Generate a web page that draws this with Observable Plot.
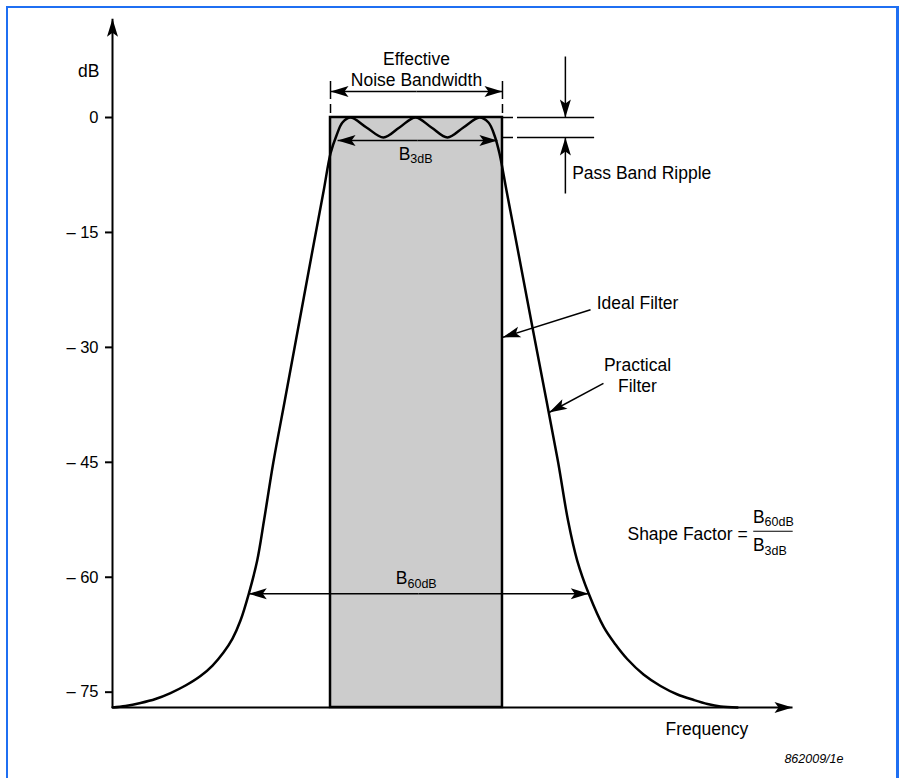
<!DOCTYPE html>
<html><head><meta charset="utf-8">
<script src="https://cdn.jsdelivr.net/npm/d3@7"></script>
<script src="https://cdn.jsdelivr.net/npm/@observablehq/plot@0.6"></script>
<style>
html,body{margin:0;padding:0;background:#fff;}
#wrap{position:relative;width:900px;height:778px;overflow:hidden;}
#wrap svg{position:absolute;left:0;top:0;}
#frame{position:absolute;left:6px;top:6px;width:888px;height:800px;border-style:solid;border-color:#1f6ff2;border-width:2px 3px 0 2px;pointer-events:none;z-index:2;}
</style></head><body><div id="wrap"><div id="frame"></div></div>
<script>
// ---- data (frequency in arbitrary units, level in dB) ----
const practicalFreq = [0,1.91,4.12,6.32,8.53,10.74,12.94,14.71,16.32,17.65,18.82,20.04,21.28,22.28,23.65,25.34,27.32,29.41,31.06,32.06,32.94,33.82,35.0,37.35,39.85,42.2,44.56,46.9,49.26,51.6,53.97,55.29,56.18,56.91,57.94,59.62,61.76,63.82,65.54,66.99,68.34,70.04,72.25,73.97,75.69,78.09,80.59,83.09,85.49,87.5,89.41,91.91];
const practicalDb   = [-77,-76.8,-76.41,-75.89,-75.11,-74.13,-72.89,-71.52,-69.82,-68.0,-65.65,-62.16,-57.82,-52.6,-45.03,-36.93,-27.41,-17.36,-9.53,-4.7,-2.35,-0.65,0,-1.3,-2.6,-1.3,0,-1.3,-2.6,-1.3,0,-0.65,-2.35,-4.7,-9.53,-17.36,-27.41,-36.94,-45.03,-52.6,-57.82,-62.16,-66.52,-68.78,-70.67,-72.69,-74.19,-75.3,-76.02,-76.54,-76.87,-77];
const idealFreq = [32.06, 57.35];
const idealDb = [-77, 0];
const dbTicks = [0, -15, -30, -45, -60, -75];
const freqDomain = [0, 100];
const dbDomain = [-77, 0];
const dbAxisTop = 12.9;
const rippleDb = [0, -2.6];
const b3Db = -3;
const b60Db = -62.16;
const enbDb = 3.4;

// annotation arrows: tail (x1,y1) -> tip (x2,y2)
const arrows = [
  {x1:0, y1:-77, x2:0, y2:dbAxisTop, w:2},
  {x1:0, y1:-77, x2:100, y2:-77, w:2},
  {x1:44.7, y1:enbDb, x2:idealFreq[0], y2:enbDb, w:1.5},
  {x1:44.7, y1:enbDb, x2:idealFreq[1], y2:enbDb, w:1.5},
  {x1:44.85, y1:b3Db, x2:33.1, y2:b3Db, w:1.5},
  {x1:44.85, y1:b3Db, x2:56.6, y2:b3Db, w:1.5},
  {x1:45.0, y1:b60Db, x2:20.04, y2:b60Db, w:1.5},
  {x1:45.0, y1:b60Db, x2:70.04, y2:b60Db, w:1.5},
  {x1:66.6, y1:7.96, x2:66.6, y2:rippleDb[0], w:1.5},
  {x1:66.6, y1:-9.92, x2:66.6, y2:rippleDb[1], w:1.5},
  {x1:70.3, y1:-25.1, x2:idealFreq[1], y2:-28.7, w:1.5},
  {x1:72.2, y1:-34.7, x2:64.2, y2:-38.5, w:1.5}
];

const labels = [
  {f:-3.5, db:6.13, t:"dB", a:"middle"},
  {f:44.7, db:6.4, t:"Effective\nNoise Bandwidth", a:"middle"},
  {f:67.6, db:-7.18, t:"Pass Band Ripple", a:"start"},
  {f:71.2, db:-24.1, t:"Ideal Filter", a:"start"},
  {f:77.2, db:-33.6, t:"Practical\nFilter", a:"middle"},
  {f:93.4, db:-54.2, t:"Shape Factor =", a:"end"},
  {f:87.4, db:-79.7, t:"Frequency", a:"middle"}
];
const subLabels = [
  {f:43.8, db:-4.76, main:"B", sub:"3dB"},
  {f:43.38, db:-60.2, main:"B", sub:"60dB"},
  {f:95.9, db:-52.2, main:"B", sub:"60dB"},
  {f:95.9, db:-55.9, main:"B", sub:"3dB"}
];
const fractionBar = [{f1:94.3, f2:100.1, db:-54.0}];
const caption = [{f:107.5, db:-83.7, t:"862009/1e"}];

// ---- build ----
const curve = practicalFreq.map((f, i) => ({f, db: practicalDb[i]}));
const ideal = [{f1: idealFreq[0], f2: idealFreq[1], d1: idealDb[0], d2: idealDb[1]}];
const xRange = [112, 792], yRange = [707, 117];
const fx = d3.scaleLinear(freqDomain, xRange);
const fy = d3.scaleLinear(dbDomain, yRange);
const heading = a => Math.atan2(fx(a.x2) - fx(a.x1), -(fy(a.y2) - fy(a.y1))) * 180 / Math.PI;
const arrowHead = {draw(ctx) { ctx.moveTo(0, 0); ctx.lineTo(-5.5, 18); ctx.lineTo(0, 14); ctx.lineTo(5.5, 18); ctx.closePath(); }};
const FS = 17.5;

const plot = Plot.plot({
  width: 900, height: 778,
  marginLeft: 112, marginRight: 108, marginTop: 117, marginBottom: 71,
  x: {domain: freqDomain, range: xRange, axis: null},
  y: {domain: dbDomain, range: yRange, axis: null},
  style: {fontFamily: "'Liberation Sans', Arial, sans-serif", fontSize: "16px", color: "black", background: "white", overflow: "visible"},
  marks: [
    Plot.rect(ideal, {x1: "f1", x2: "f2", y1: "d1", y2: "d2", fill: "#cccccc", stroke: "black", strokeWidth: 2.5}),
    Plot.axisY({ticks: dbTicks, tickFormat: d => d === 0 ? "0" : "\u2013 " + Math.abs(d), tickSize: 7, tickPadding: 7, fontSize: 16.5, strokeWidth: 2, label: null}),
    Plot.ruleX(idealFreq, {y1: 4.70, y2: 0.52, stroke: "black", strokeWidth: 1.5, strokeDasharray: "18,5"}),
    Plot.ruleY(rippleDb, {x1: 57.5, x2: 70.9, stroke: "black", strokeWidth: 1.5, strokeDasharray: "10,4,300"}),
    Plot.link(arrows, {x1: "x1", y1: "y1", x2: "x2", y2: "y2", stroke: "black", strokeWidth: "w"}),
    Plot.line(curve, {x: "f", y: "db", curve: "catmull-rom", stroke: "black", strokeWidth: 2.5}),
    Plot.dot(arrows, {x: "x2", y: "y2", symbol: arrowHead, rotate: heading, fill: "black", stroke: "none"}),
    ...["start", "middle", "end"].map(anchor =>
      Plot.text(labels.filter(d => d.a === anchor), {x: "f", y: "db", text: "t", textAnchor: anchor, fontSize: FS, lineHeight: 1.22, fill: "black"})),
    Plot.text(subLabels, {x: "f", y: "db", text: "main", textAnchor: "end", fontSize: FS, fill: "black"}),
    Plot.text(subLabels, {x: "f", y: "db", text: "sub", textAnchor: "start", fontSize: 12.5, dy: 5, fill: "black"}),
    Plot.ruleY(fractionBar, {x1: "f1", x2: "f2", y: "db", stroke: "black", strokeWidth: 1.2}),
    Plot.text(caption, {x: "f", y: "db", text: "t", textAnchor: "end", fontSize: 12.5, fontStyle: "italic", fill: "black"})
  ]
});
document.getElementById("wrap").insertBefore(plot, document.getElementById("frame"));
</script></body></html>
